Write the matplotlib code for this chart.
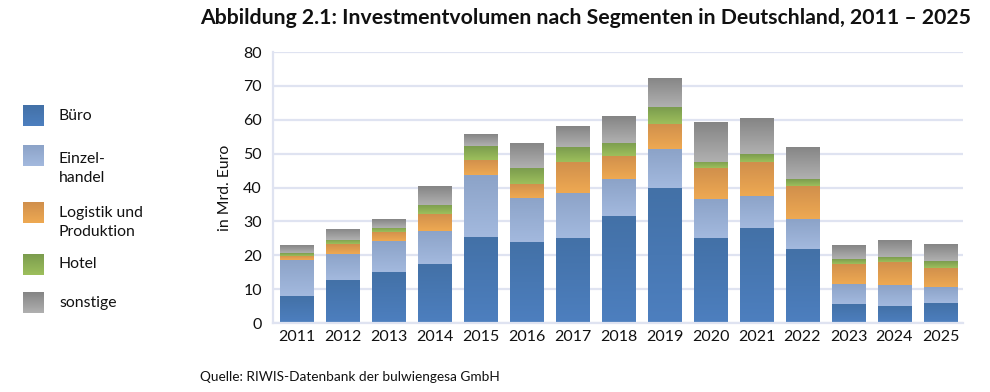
import matplotlib
matplotlib.use("Agg")
import matplotlib.pyplot as plt
import numpy as np
from matplotlib.colors import LinearSegmentedColormap

plt.rcParams["font.family"] = ["Lato", "DejaVu Sans"]

# ---------------------------------------------------------------- data
years = ["2011", "2012", "2013", "2014", "2015", "2016", "2017", "2018",
         "2019", "2020", "2021", "2022", "2023", "2024", "2025"]
buero = [7.9, 12.6, 15.0, 17.3, 25.3, 23.8, 25.0, 31.5, 39.8, 25.0, 28.0, 21.8, 5.5, 4.9, 5.8]
einzelhandel = [10.7, 7.8, 9.1, 9.8, 18.3, 13.1, 13.3, 10.9, 11.5, 11.5, 9.5, 8.8, 5.9, 6.2, 4.7]
logistik = [1.2, 2.8, 2.8, 5.1, 4.5, 4.3, 9.2, 6.9, 7.5, 9.3, 10.0, 10.0, 6.0, 6.9, 5.7]
hotel = [0.8, 1.2, 1.3, 2.8, 4.1, 4.5, 4.4, 4.0, 4.9, 1.9, 2.3, 1.8, 1.4, 1.4, 2.0]
sonstige = [2.3, 3.3, 2.4, 5.6, 3.5, 7.4, 6.2, 7.7, 8.8, 11.8, 10.6, 9.5, 4.1, 5.0, 5.0]

series = [buero, einzelhandel, logistik, hotel, sonstige]
labels = ["Büro", "Einzel-\nhandel", "Logistik und\nProduktion", "Hotel", "sonstige"]
# (top colour, bottom colour) of the vertical gradient
grads = [("#4371a7", "#4d7fbf"),
         ("#8ca3c8", "#a3b9de"),
         ("#d08f4c", "#eea952"),
         ("#7b9c4e", "#9dbf5c"),
         ("#858585", "#b0b0b0")]

title = "Abbildung 2.1: Investmentvolumen nach Segmenten in Deutschland, 2011 – 2025"
source = "Quelle: RIWIS-Datenbank der bulwiengesa GmbH"

W, H = 990.0, 392.0
TXT = "#111111"

# ---------------------------------------------------------------- figure
fig = plt.figure(figsize=(9.9, 3.92), dpi=100)
ax = fig.add_axes([0.2758, 0.176, 0.6969, 0.691])

x = np.arange(len(years))
bottom = np.zeros(len(years))
grad = np.linspace(1, 0, 64).reshape(-1, 1)
for vals, (ctop, cbot) in zip(series, grads):
    bars = ax.bar(x, vals, 0.72, bottom=bottom, color=cbot, zorder=2, linewidth=0)
    cmap = LinearSegmentedColormap.from_list("g", [cbot, ctop])
    for b in bars:
        x0, y0 = b.get_x(), b.get_y()
        im = ax.imshow(grad, extent=[x0, x0 + b.get_width(), y0, y0 + b.get_height()],
                       aspect="auto", cmap=cmap, vmin=0, vmax=1, zorder=2.5,
                       interpolation="bicubic")
        im.set_clip_path(b)
    bottom += np.array(vals)

ax.set_xlim(-0.51, 14.49)
ax.set_ylim(0, 80)
ax.set_yticks(range(0, 81, 10))
ax.set_xticks(x)
ax.set_xticklabels(years)
ax.grid(axis="y", color="#dfe3f1", linewidth=1.6, zorder=0)
ax.set_axisbelow(True)
for s in ["top", "right"]:
    ax.spines[s].set_visible(False)
for s in ["left", "bottom"]:
    ax.spines[s].set_color("#dfe3f1")
    ax.spines[s].set_linewidth(1.6)
ax.tick_params(length=0, labelsize=11.5, colors=TXT, pad=5)
ax.tick_params(axis="y", pad=8)
ax.set_ylabel("in Mrd. Euro", fontsize=11.3, color=TXT, labelpad=8)

# ---------------------------------------------------------------- legend (manual)
leg_y = [115.5, 155.5, 212.5, 264.5, 302.5]   # patch centres in px from top
for (ctop, cbot), lab, yc in zip(grads, labels, leg_y):
    lax = fig.add_axes([23 / W, 1 - (yc + 10.5) / H, 21 / W, 21 / H])
    lax.imshow(grad, aspect="auto", interpolation="bicubic", vmin=0, vmax=1,
               cmap=LinearSegmentedColormap.from_list("g", [cbot, ctop]))
    lax.set_axis_off()
    ty = yc
    if lab.startswith("Einzel"):
        ty = yc + 13
    elif lab.startswith("Logistik"):
        ty = yc + 10
    fig.text(59 / W, 1 - ty / H, lab, fontsize=11.3, color=TXT,
             va="center", ha="left", linespacing=1.4)

fig.text(200 / W, 1 - 18 / H, title, fontsize=15.3, fontweight="bold",
         va="center", ha="left", color=TXT)
fig.text(200 / W, 1 - 377 / H, source, fontsize=9.8, va="center", ha="left",
         color=TXT)

fig.savefig("out.png", dpi=100)
